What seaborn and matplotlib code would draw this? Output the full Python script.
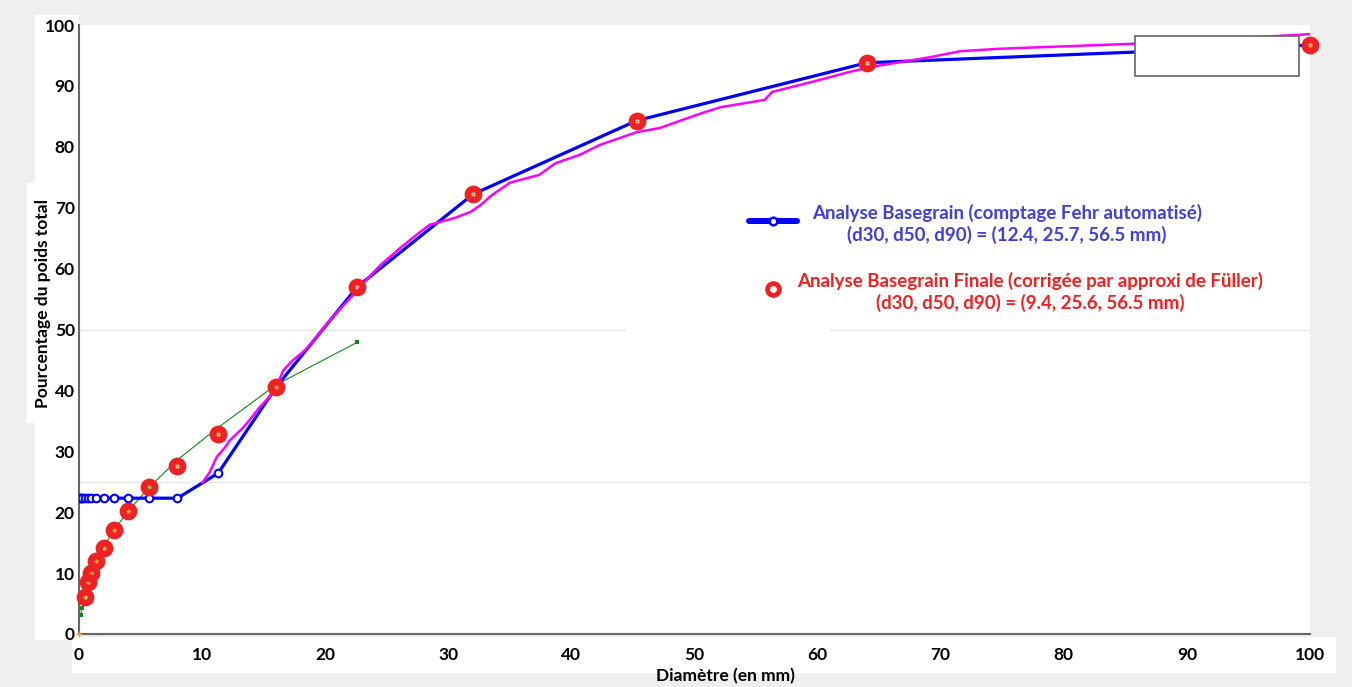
import matplotlib
matplotlib.use("Agg")
import matplotlib.pyplot as plt
import seaborn as sns
import pandas as pd
from matplotlib.patches import Rectangle
from matplotlib.lines import Line2D

# ---------------- data ----------------
blue_d = [0.0625, 0.125, 0.25, 0.5, 0.71, 1.0, 1.41, 2.0, 2.83, 4.0, 5.66, 8.0,
          11.3, 16.0, 22.6, 32.0, 45.3, 64.0, 100.0]
blue_p = [22.3, 22.3, 22.3, 22.3, 22.3, 22.3, 22.3, 22.3, 22.3, 22.3, 22.3, 22.3,
          26.4, 40.5, 57.0, 72.2, 84.3, 93.8, 96.7]

red_d = [0.5, 0.71, 1.0, 1.41, 2.0, 2.83, 4.0, 5.66, 8.0, 11.3, 16.0, 22.6, 32.0,
         45.3, 64.0, 100.0]
red_p = [6.1, 8.5, 10.0, 12.0, 14.2, 17.1, 20.2, 24.1, 27.6, 32.8, 40.5, 57.0, 72.2,
         84.3, 93.8, 96.7]

green_d = [0.125, 0.25, 0.5, 0.71, 1.0, 1.41, 2.0, 2.83, 4.0, 5.66, 8.0, 11.3, 16.0, 22.6]
green_p = [3.1, 4.3, 6.6, 8.7, 10.1, 12.0, 14.3, 17.0, 20.2, 24.0, 28.6, 33.9, 40.9, 47.9]

mag_d = [10.0, 10.6, 11.2, 11.8, 12.3, 13.3, 14.0, 14.7, 15.5, 16.0, 16.6, 17.4, 18.2,
         19.0, 20.4, 21.5, 22.5, 23.5, 24.5, 26.1, 27.7, 28.5, 30.5, 31.8, 32.6, 33.5,
         35.0, 37.4, 38.7, 40.7, 42.3, 45.3, 47.2, 50.4, 52.1, 55.7, 56.3, 60.2, 62.6,
         64.3, 66.7, 69.1, 71.6, 74.8, 85.4, 99.2, 100.0]
mag_p = [24.8, 26.5, 29.1, 30.5, 31.9, 33.8, 35.5, 37.3, 39.0, 40.5, 43.3, 45.0, 46.3,
         48.0, 51.6, 54.0, 56.2, 58.5, 60.6, 63.4, 66.0, 67.2, 68.3, 69.3, 70.4, 72.0,
         74.1, 75.4, 77.3, 78.7, 80.3, 82.4, 83.1, 85.4, 86.5, 87.7, 89.0, 91.0, 92.3,
         93.1, 93.9, 94.7, 95.7, 96.1, 96.9, 98.4, 98.5]

orange_d = [0.0] + red_d
orange_p = [0.0] + red_p

xticks = [0, 10, 20, 30, 40, 50, 60, 70, 80, 90, 100]
yticks = [0, 10, 20, 30, 40, 50, 60, 70, 80, 90, 100]

label_blue = "Analyse Basegrain (comptage Fehr automatisé)\n(d30, d50, d90) = (12.4, 25.7, 56.5 mm)"
label_red = "Analyse Basegrain Finale (corrigée par approxi de Füller)\n(d30, d50, d90) = (9.4, 25.6, 56.5 mm)"
xlabel = "Diamètre (en mm)"
ylabel = "Pourcentage du poids total"

# ---------------- style ----------------
sns.set_theme(style="white")
plt.rcParams["font.family"] = ["Lato", "DejaVu Sans"]
plt.rcParams["font.weight"] = "bold"

W, H = 1352, 687
fig = plt.figure(figsize=(W / 100, H / 100), dpi=100, facecolor="#efefef")

def fx(px):
    return px / W

def fy(py):
    return 1 - py / H

# white background patches of the screenshot
for (x0, y0, x1, y1) in [(35, 15, 79, 640), (72, 637, 1336, 673), (27, 183, 36, 423)]:
    fig.patches.append(Rectangle((fx(x0), fy(y1)), fx(x1 - x0), (y1 - y0) / H,
                                 transform=fig.transFigure, facecolor="white",
                                 edgecolor="none", zorder=-5))

ax = fig.add_axes([fx(79), fy(634), fx(1310 - 79), (634 - 25) / H])
ax.set_facecolor("white")

# faint horizontal lines
ax.axhline(25, color="#e6e6e6", lw=1.0, zorder=0)
ax.axhline(50, xmin=0, xmax=(625 - 79) / 1231, color="#e6e6e6", lw=1.0, zorder=0)
ax.axhline(50, xmin=(830 - 79) / 1231, xmax=1, color="#e6e6e6", lw=1.0, zorder=0)

green = pd.DataFrame({"d": green_d, "p": green_p})
blue = pd.DataFrame({"d": blue_d, "p": blue_p})
mag = pd.DataFrame({"d": mag_d, "p": mag_p})
red = pd.DataFrame({"d": red_d, "p": red_p})
orange = pd.DataFrame({"d": orange_d, "p": orange_p})

sns.lineplot(data=green, x="d", y="p", ax=ax, color="#118811", lw=0.8,
             marker="s", markersize=3.5, markeredgewidth=0, sort=False,
             estimator=None, zorder=2)
sns.lineplot(data=blue, x="d", y="p", ax=ax, color="#0000ff", lw=2.3,
             marker="o", markersize=5.5, markerfacecolor="white",
             markeredgecolor="#0000ff", markeredgewidth=1.5, sort=False,
             estimator=None, zorder=3)
sns.lineplot(data=mag, x="d", y="p", ax=ax, color="#ff00ff", lw=1.8,
             sort=False, estimator=None, zorder=3)
ax.plot(orange["d"], orange["p"], linestyle="none", marker="+", color="#ff9933",
        markersize=4, markeredgewidth=1.0, zorder=4, clip_on=False)
ax.plot(red["d"], red["p"], linestyle="none", marker="o", markersize=8,
        markerfacecolor="none", markeredgecolor="#ee2222", markeredgewidth=4.8,
        zorder=5, clip_on=False)

ax.set_xlim(0, 100)
ax.set_ylim(0, 100)
ax.set_xticks(xticks)
ax.set_yticks(yticks)
ax.tick_params(axis="both", direction="in", length=10, width=1.2, color="#555555",
               labelsize=12.5, labelcolor="black")
ax.tick_params(axis="x", pad=9)
ax.tick_params(axis="y", pad=3)
for lab in ax.get_xticklabels() + ax.get_yticklabels():
    lab.set_fontweight("bold")

for s in ["top", "right"]:
    ax.spines[s].set_visible(False)
for s in ["left", "bottom"]:
    ax.spines[s].set_color("#666666")
    ax.spines[s].set_linewidth(1.5)

ax.set_xlabel(xlabel, fontsize=12.5, fontweight="bold", color="black")
ax.set_ylabel(ylabel, fontsize=12.5, fontweight="bold", color="black")
ax.xaxis.set_label_coords((725 - 79) / 1231, (634 - 676) / 609)
ax.yaxis.set_label_coords((43 - 79) / 1231, (634 - 303) / 609)
ax.xaxis.label.set_va("center")
ax.yaxis.label.set_va("center")

# empty box in upper right
ax.add_patch(Rectangle(((1135 - 79) / 1231, (634 - 76) / 609), (1299 - 1135) / 1231,
                       (76 - 36) / 609, transform=ax.transAxes, facecolor="white",
                       edgecolor="#666666", lw=1.2, zorder=6))

# legend (manual, centered text)
def ax_x(px):
    return (px - 79) / 1231

def ax_y(py):
    return (634 - py) / 609

ax.add_line(Line2D([ax_x(749), ax_x(797)], [ax_y(221), ax_y(221)], transform=ax.transAxes,
                   color="#0000ff", lw=4.3, zorder=7))
ax.add_line(Line2D([ax_x(773)], [ax_y(221)], transform=ax.transAxes, color="#0000ff",
                   marker="o", markersize=5.5, markerfacecolor="white",
                   markeredgewidth=1.8, linestyle="none", zorder=8))
ax.add_line(Line2D([ax_x(773)], [ax_y(289)], transform=ax.transAxes, color="#ee2222",
                   marker="o", markersize=8.5, markerfacecolor="white",
                   markeredgewidth=3.5, linestyle="none", zorder=8))
ax.text(ax_x(1007), ax_y(224), label_blue, transform=ax.transAxes, ha="center",
        va="center", multialignment="center", color="#4040d8", fontsize=13.5,
        fontweight="bold", linespacing=1.28, zorder=8)
ax.text(ax_x(1030), ax_y(292), label_red, transform=ax.transAxes, ha="center",
        va="center", multialignment="center", color="#ee2222", fontsize=13.5,
        fontweight="bold", linespacing=1.28, zorder=8)

fig.savefig("out.png", dpi=100, facecolor=fig.get_facecolor())
